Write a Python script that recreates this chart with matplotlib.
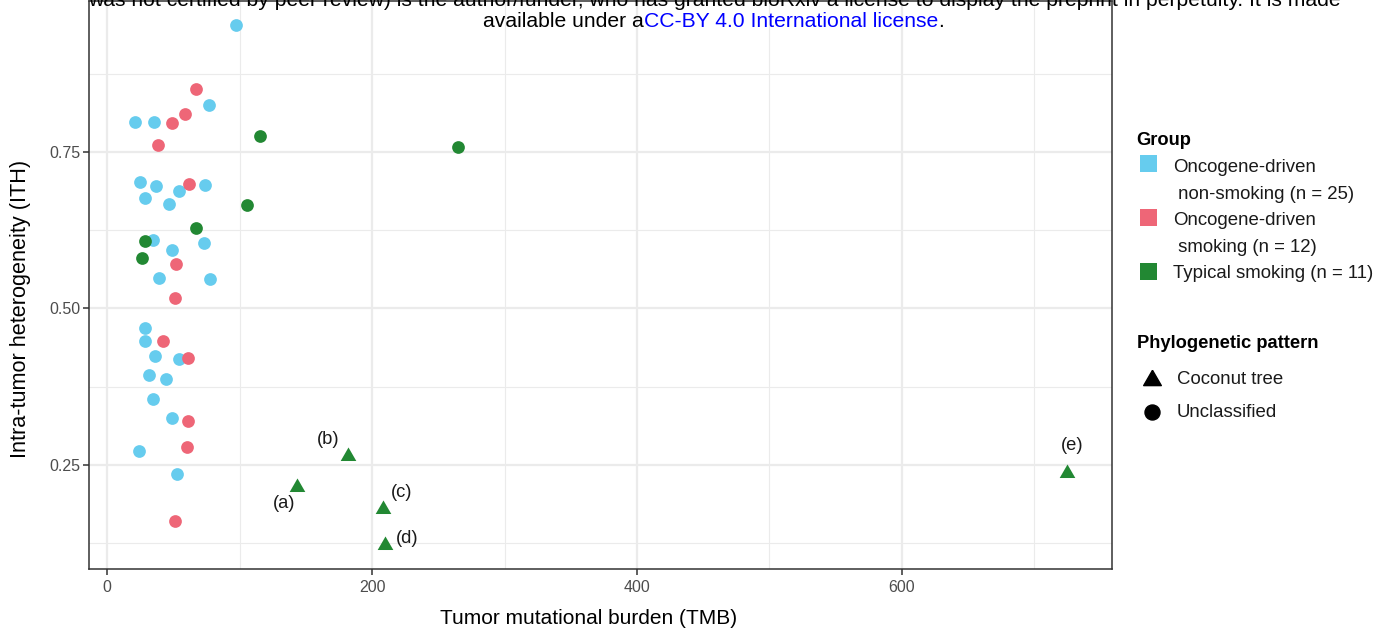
import matplotlib
matplotlib.use("Agg")
import matplotlib.pyplot as plt
from matplotlib.patches import Rectangle
import pandas as pd

plt.rcParams['font.family'] = ['Liberation Sans', 'DejaVu Sans']

# ---------------- data ----------------
group_names = ["Oncogene-driven\n non-smoking (n = 25)",
               "Oncogene-driven\n smoking (n = 12)",
               "Typical smoking (n = 11)"]
group_colors = ["#66CCEE", "#EE6677", "#228833"]
pattern_names = ["Coconut tree", "Unclassified"]

tmb_nonsmoking = [97.4, 21.1, 35.5, 77.0, 24.9, 37.0, 74.0, 28.7, 54.3, 46.8,
                  34.7, 49.1, 73.2, 39.2, 77.7, 28.3, 28.3, 36.2, 54.0, 31.7,
                  44.5, 34.7, 49.1, 23.8, 52.5]
ith_nonsmoking = [0.952, 0.798, 0.798, 0.825, 0.702, 0.696, 0.697, 0.677, 0.688, 0.667,
                  0.609, 0.593, 0.605, 0.549, 0.547, 0.468, 0.448, 0.424, 0.419, 0.394,
                  0.387, 0.356, 0.325, 0.272, 0.236]

tmb_smoking = [66.9, 58.9, 49.3, 38.3, 61.7, 52.3, 51.1, 42.3, 61.1, 60.9, 60.4, 51.3]
ith_smoking = [0.850, 0.811, 0.796, 0.761, 0.699, 0.571, 0.517, 0.448, 0.421, 0.320, 0.279, 0.161]

tmb_typical_unclass = [115.7, 264.9, 105.7, 67.2, 28.7, 26.6]
ith_typical_unclass = [0.776, 0.758, 0.666, 0.629, 0.608, 0.580]

tmb_typical_coconut = [143.4, 181.9, 208.6, 209.8, 724.5]
ith_typical_coconut = [0.215, 0.265, 0.179, 0.123, 0.237]
coconut_labels = ["(a)", "(b)", "(c)", "(d)", "(e)"]

x_ticks = [0, 200, 400, 600]
y_ticks = [0.25, 0.50, 0.75]
y_tick_labels = ["0.25", "0.50", "0.75"]

frames = [
    pd.DataFrame({"tmb": tmb_nonsmoking, "ith": ith_nonsmoking, "group": 0, "pattern": 1, "label": ""}),
    pd.DataFrame({"tmb": tmb_smoking, "ith": ith_smoking, "group": 1, "pattern": 1, "label": ""}),
    pd.DataFrame({"tmb": tmb_typical_unclass, "ith": ith_typical_unclass, "group": 2, "pattern": 1, "label": ""}),
    pd.DataFrame({"tmb": tmb_typical_coconut, "ith": ith_typical_coconut, "group": 2, "pattern": 0,
                  "label": coconut_labels}),
]
df = pd.concat(frames, ignore_index=True)

# ---------------- figure ----------------
W, H = 1391, 635
fig = plt.figure(figsize=(W / 100, H / 100), dpi=100)
L, R, T, B = 89, 1112, 1, 569
ax = fig.add_axes([L / W, 1 - B / H, (R - L) / W, (B - T) / H])

ax.set_xlim(-13.6, 758.5)
ax.set_ylim(0.0839, 0.991)

# grid (theme_bw)
ax.set_xticks(x_ticks)
ax.set_xticks([100, 300, 500, 700], minor=True)
ax.set_yticks(y_ticks)
ax.set_yticklabels(y_tick_labels)
ax.set_yticks([0.125, 0.375, 0.625, 0.875], minor=True)
ax.grid(True, which="major", color="#EBEBEB", lw=1.6)
ax.grid(True, which="minor", color="#EBEBEB", lw=0.8)
ax.set_axisbelow(True)
ax.tick_params(which="minor", length=0)
ax.tick_params(which="major", length=4, width=1.1, color="#333333",
               labelcolor="#4D4D4D", labelsize=11.5)
ax.tick_params(axis="x", pad=3.6)
ax.tick_params(axis="y", pad=2.4)
for s in ax.spines.values():
    s.set_color("#333333")
    s.set_linewidth(1.1)

tri = [(0, 1.555), (1.347, -0.778), (-1.347, -0.778), (0, 1.555)]

for g in range(3):
    for p in (1, 0):
        sub = df[(df.group == g) & (df.pattern == p)]
        if sub.empty:
            continue
        if p == 1:
            ax.scatter(sub.tmb, sub.ith, s=84, marker="o", color=group_colors[g],
                       linewidths=0, zorder=3)
        else:
            ax.scatter(sub.tmb, sub.ith, s=169, marker=tri, color=group_colors[g],
                       linewidths=0, zorder=3)

label_offsets = {"(a)": (-13, -17), "(b)": (-20, 16.6), "(c)": (18.7, 17.3),
                 "(d)": (22, 5.7), "(e)": (5, 28)}
for _, r in df[df.label != ""].iterrows():
    ax.annotate(r.label, (r.tmb, r.ith), xytext=label_offsets[r.label],
                textcoords="offset pixels", ha="center", va="center",
                fontsize=13.2, color="#1A1A1A", zorder=4)

ax.set_xlabel("Tumor mutational burden (TMB)", fontsize=15, color="black", va="center")
ax.xaxis.set_label_coords((588.7 - L) / (R - L), -(619 - B) / (B - T))
ax.set_ylabel("Intra-tumor heterogeneity (ITH)", fontsize=15.6, color="black", va="center")
ax.yaxis.set_label_coords((21 - L) / (R - L), (B - 308.5) / (B - T))

# ---------------- overlay (legend + header), pixel coordinates ----------------
ov = fig.add_axes([0, 0, 1, 1], zorder=10)
ov.set_xlim(0, W)
ov.set_ylim(H, 0)
ov.axis("off")
ov.patch.set_alpha(0)

ov.text(1136.7, 145, "Group", fontsize=13.2, fontweight="bold", va="baseline", ha="left")
key_y = [163.8, 217.7, 271.3]
text_base = [(171.7, 199.0), (225.0, 251.7), (278.3, None)]
for i in range(3):
    ov.add_patch(Rectangle((1140, key_y[i] - 8.35), 16.7, 16.7, color=group_colors[i], lw=0))
    lines = group_names[i].split("\n")
    ov.text(1173.3, text_base[i][0], lines[0], fontsize=13.4, va="baseline", ha="left",
            color="#1A1A1A")
    if len(lines) > 1:
        ov.text(1173.3, text_base[i][1], lines[1], fontsize=13.4, va="baseline", ha="left",
                color="#1A1A1A")

ov.text(1136.7, 348.3, "Phylogenetic pattern", fontsize=13.2, fontweight="bold",
        va="baseline", ha="left")
ov.plot([1152.3], [379.8], marker=tri, ms=14.7, color="black", lw=0)
ov.plot([1152.3], [411.7], marker="o", ms=10.8, color="black", lw=0)
ov.text(1176.7, 384.3, pattern_names[0], fontsize=13.4, va="baseline", ha="left", color="#1A1A1A")
ov.text(1176.7, 416.7, pattern_names[1], fontsize=13.4, va="baseline", ha="left", color="#1A1A1A")

# bioRxiv header
hdr_fs = 15.2
ov.text(714, 6, "was not certified by peer review) is the author/funder, who has granted bioRxiv "
        "a license to display the preprint in perpetuity. It is made",
        fontsize=hdr_fs, ha="center", va="baseline", color="black")
pieces = [("available under a", "black"), ("CC-BY 4.0 International license", "#0000FF"), (".", "black")]
fig.canvas.draw()
renderer = fig.canvas.get_renderer()
objs = [ov.text(0, 27, t, fontsize=hdr_fs, ha="left", va="baseline", color=c) for t, c in pieces]
widths = [o.get_window_extent(renderer).width for o in objs]
x0 = 713.5 - sum(widths) / 2
for o, w in zip(objs, widths):
    o.set_x(x0)
    x0 += w

fig.savefig("out.png", dpi=100)
